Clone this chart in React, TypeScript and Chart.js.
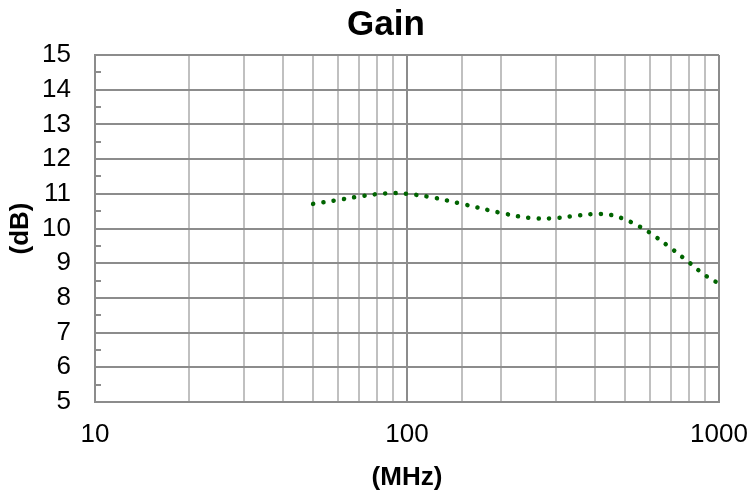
import React, { useEffect, useRef } from "react";
import { Chart, registerables } from "chart.js";

Chart.register(...registerables);

const freqsMHz = [50, 60, 70, 80, 90, 100, 120, 150, 200, 250, 300, 350, 400, 450, 500, 550, 600, 700, 800, 900, 1000];
const gainDb = [10.71, 10.82, 10.92, 10.99, 11.02, 11.0, 10.9, 10.71, 10.45, 10.3, 10.3, 10.37, 10.42, 10.39, 10.26, 10.08, 9.88, 9.44, 9.03, 8.66, 8.41];
const xLabels = [10, 100, 1000];
const titleText = "Gain";
const yMin = 5;
const yMax = 15;

const FONT = "'Liberation Sans', Arial, Helvetica, sans-serif";
const MAJOR = "#8c8c8c";
const MINOR = "#c0c0c0";

const innerTicks = {
  id: "innerTicks",
  beforeDatasetsDraw(chart: any) {
    const y = chart.scales.y;
    const left = chart.chartArea.left;
    const ctx = chart.ctx;
    ctx.save();
    ctx.strokeStyle = MAJOR;
    ctx.lineWidth = 2;
    for (let v = yMin + 0.5; v < yMax; v += 1) {
      const py = Math.round(y.getPixelForValue(v));
      ctx.beginPath();
      ctx.moveTo(left, py);
      ctx.lineTo(left + 6, py);
      ctx.stroke();
    }
    ctx.restore();
  },
  afterDraw(chart: any) {
    const ctx = chart.ctx;
    ctx.save();
    ctx.fillStyle = "#000";
    ctx.font = `bold 35px ${FONT}`;
    ctx.textAlign = "center";
    ctx.textBaseline = "middle";
    ctx.fillText(titleText, 386, 25);
    ctx.restore();
  },
};

export default function App() {
  const ref = useRef<HTMLCanvasElement | null>(null);
  useEffect(() => {
    document.body.style.margin = "0";
    const canvas = ref.current!;
    const chart = new Chart(canvas, {
      type: "line",
      data: {
        datasets: [
          {
            data: freqsMHz.map((f, i) => ({ x: f, y: gainDb[i] })),
            borderColor: "#006400",
            borderWidth: 4.5,
            borderDash: [0.1, 10.3],
            borderCapStyle: "round",
            pointRadius: 0,
            tension: 0.35,
            fill: false,
          },
        ],
      },
      plugins: [innerTicks],
      options: {
        animation: false,
        responsive: false,
        devicePixelRatio: 1,
        layout: { padding: { left: 0, right: 0, top: 55, bottom: 0 } },
        plugins: {
          legend: { display: false },
          tooltip: { enabled: false },
          title: { display: false },
        },
        scales: {
          x: {
            type: "logarithmic",
            min: 10,
            max: 1000,
            afterFit: (s: any) => {
              s.height = 91;
              s.paddingRight = 29;
              s.paddingLeft = 0;
            },
            border: { display: true, color: MAJOR, width: 2 },
            grid: {
              drawTicks: false,
              lineWidth: 2,
              color: (c: any) => {
                const v = c.tick ? c.tick.value : 0;
                const l = Math.log10(v);
                return Math.abs(l - Math.round(l)) < 1e-9 ? MAJOR : MINOR;
              },
            },
            ticks: {
              autoSkip: false,
              maxRotation: 0,
              padding: 17,
              color: "#000",
              font: { family: FONT, size: 26 },
              callback: (v: any) => (xLabels.includes(Number(v)) ? String(v) : ""),
            },
            title: {
              display: true,
              text: "(MHz)",
              color: "#000",
              font: { family: FONT, size: 26, weight: "bold" },
              padding: { top: 0, bottom: 0 },
            },
          },
          y: {
            type: "linear",
            min: yMin,
            max: yMax,
            afterFit: (s: any) => {
              s.width = 95;
              s.paddingTop = 0;
            },
            border: { display: true, color: MAJOR, width: 2 },
            grid: {
              drawTicks: false,
              lineWidth: 2,
              color: (c: any) => {
                const v = c.tick ? c.tick.value : 0;
                return Math.abs(v - Math.round(v)) < 1e-9 ? MAJOR : "rgba(0,0,0,0)";
              },
            },
            ticks: {
              stepSize: 0.5,
              autoSkip: false,
              padding: 24,
              color: "#000",
              font: { family: FONT, size: 26 },
              callback: (v: any) => (Math.abs(Number(v) - Math.round(Number(v))) < 1e-9 ? String(v) : ""),
            },
            title: {
              display: true,
              text: "(dB)",
              color: "#000",
              font: { family: FONT, size: 26, weight: "bold" },
              padding: { top: 5, bottom: 0 },
            },
          },
        },
      },
    } as any);
    return () => chart.destroy();
  }, []);
  return (
    <div style={{ width: 748, height: 493 }}>
      <canvas ref={ref} width={748} height={493} style={{ display: "block" }} />
    </div>
  );
}
